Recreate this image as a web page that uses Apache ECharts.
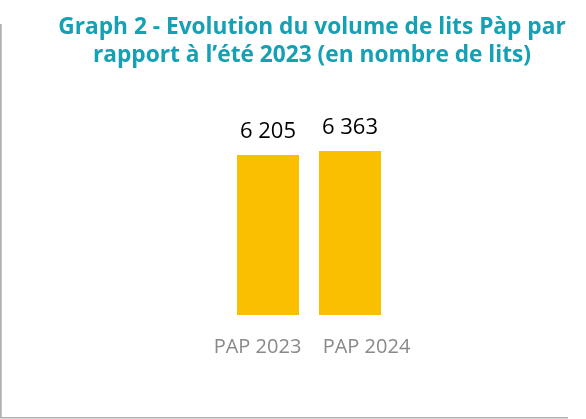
<!DOCTYPE html>
<html>
<head>
<meta charset="utf-8">
<script src="https://cdn.jsdelivr.net/npm/echarts@6/dist/echarts.min.js"></script>
<style>
html,body{margin:0;padding:0;background:#fff;}
#chart{width:586px;height:419px;}
</style>
</head>
<body>
<div id="chart"></div>
<script>
const titleLines = ['Graph 2 - Evolution du volume de lits Pàp par', 'rapport à l\u2019été 2023 (en nombre de lits)'];
const categories = ['PAP 2023', 'PAP 2024'];
const values = [6205, 6363];

const fmt = v => String(v).replace(/\B(?=(\d{3})+(?!\d))/g, ' ');
const FONT = '"Open Sans", "Noto Sans", sans-serif';

const chart = echarts.init(document.getElementById('chart'), null, {renderer: 'canvas'});
chart.setOption({
  animation: false,
  backgroundColor: '#ffffff',
  title: {
    text: titleLines.join('\n'),
    left: 307,
    top: 9,
    textAlign: 'center',
    textStyle: {
      color: '#14A0B5',
      fontFamily: FONT,
      fontWeight: 'bold',
      fontSize: 22.7,
      lineHeight: 27.5
    }
  },
  graphic: [
    {type: 'rect', shape: {x: 0, y: 24, width: 1.7, height: 394}, style: {fill: '#b0b0b0'}, silent: true},
    {type: 'rect', shape: {x: 0, y: 417, width: 568, height: 1.5}, style: {fill: '#b0b0b0'}, silent: true}
  ],
  grid: {left: 227, right: 195, top: 151, bottom: 104, containLabel: false},
  xAxis: {
    type: 'category',
    data: categories,
    axisLine: {show: false},
    axisTick: {show: false},
    axisLabel: {
      color: '#898989',
      fontFamily: FONT,
      fontSize: 20,
      margin: 22,
      interval: 0,
      formatter: (v, i) => (i === 0 ? '{l|' : '{r|') + v + '}',
      rich: {
        l: {color: '#898989', fontFamily: FONT, fontSize: 20, padding: [0, 21, 0, 0]},
        r: {color: '#898989', fontFamily: FONT, fontSize: 20, padding: [0, 0, 0, 33]}
      }
    }
  },
  yAxis: {
    type: 'value',
    min: 0,
    max: 6363,
    show: false,
    splitLine: {show: false}
  },
  series: [{
    type: 'bar',
    data: values,
    barWidth: 62,
    itemStyle: {color: '#FABF00'},
    label: {
      show: true,
      position: 'top',
      distance: 12,
      color: '#000000',
      fontFamily: FONT,
      fontSize: 22,
      formatter: p => fmt(p.value)
    }
  }]
});
</script>
</body>
</html>
